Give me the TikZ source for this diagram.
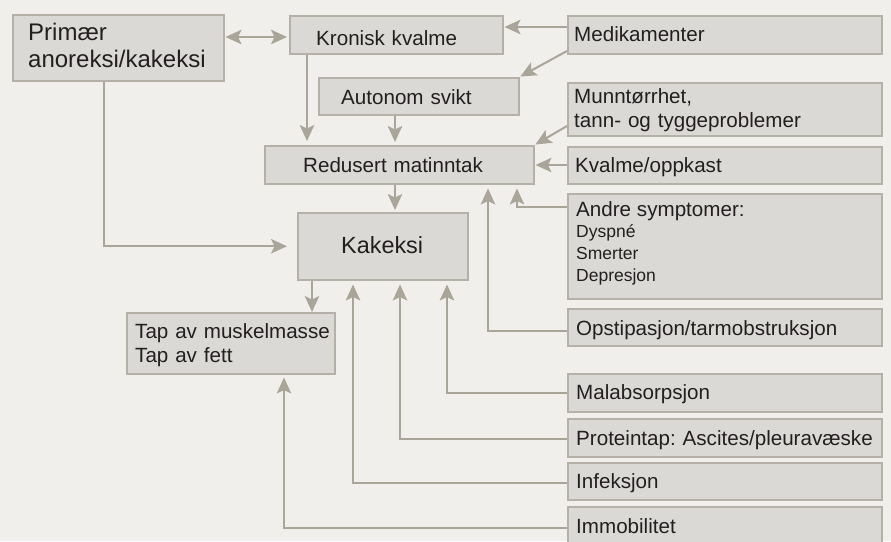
\documentclass[tikz,border=0pt]{standalone}
\usepackage{fontspec}
\setmainfont{Liberation Sans}
\usetikzlibrary{arrows.meta}
\definecolor{bgc}{RGB}{240,239,236}
\definecolor{boxf}{RGB}{218,217,214}
\definecolor{boxd}{RGB}{182,177,168}
\definecolor{arrc}{RGB}{170,165,153}
\definecolor{txtc}{RGB}{35,31,32}
\frenchspacing
\begin{document}
\begin{tikzpicture}[x=1pt,y=-1pt,
  bx/.style={draw=boxd, fill=boxf, line width=1.5pt, inner sep=0pt, anchor=north west},
  tx/.style={anchor=base west, inner sep=0pt, text=txtc, font=\fontsize{20.6}{24}\selectfont, align=left, text width=310pt},
  arr/.style={draw=arrc, line width=2pt, -{Stealth[length=16pt,width=14.5pt,inset=3.5pt]}},
  arr2/.style={draw=arrc, line width=2pt, {Stealth[length=16pt,width=14.5pt,inset=3.5pt]}-{Stealth[length=16pt,width=14.5pt,inset=3.5pt]}},
]
\useasboundingbox (0,0) rectangle (891,541);
\fill[bgc] (0,0) rectangle (891,541);

% boxes
\node[bx, minimum width=211pt, minimum height=66pt] (prim) at (12,14) {};
\node[bx, minimum width=213pt, minimum height=38pt] (kron) at (289,15) {};
\node[bx, minimum width=200pt, minimum height=37pt] (auto) at (318,77) {};
\node[bx, minimum width=269pt, minimum height=38pt] (red) at (264,145) {};
\node[bx, minimum width=170pt, minimum height=67pt] (kak) at (297,212) {};
\node[bx, minimum width=208pt, minimum height=61pt] (tap) at (126,312) {};
\node[bx, minimum width=314pt, minimum height=38pt] (med) at (567,15) {};
\node[bx, minimum width=314pt, minimum height=53pt] (munn) at (567,82) {};
\node[bx, minimum width=314pt, minimum height=37pt] (kvo) at (567,146) {};
\node[bx, minimum width=314pt, minimum height=105pt] (andre) at (567,193) {};
\node[bx, minimum width=314pt, minimum height=37pt] (opst) at (567,308) {};
\node[bx, minimum width=314pt, minimum height=38pt] (mal) at (567,373) {};
\node[bx, minimum width=314pt, minimum height=38pt] (prot) at (567,418) {};
\node[bx, minimum width=314pt, minimum height=37pt] (inf) at (567,462) {};
\node[bx, minimum width=314pt, minimum height=44pt] (imm) at (567,506) {};

% texts
\node[tx, font=\fontsize{24}{27}\selectfont] (primt) at (28,40) {Primær\\anoreksi/kakeksi};
\node[tx] (kront) at (316,45) {Kronisk kvalme};
\node[tx] (autot) at (341,104) {Autonom svikt};
\node[tx] (redt) at (303,172) {Redusert matinntak};
\node[tx, font=\fontsize{23.4}{27}\selectfont] (kakt) at (341,253) {Kakeksi};
\node[tx] (tapt) at (135,338) {Tap av muskelmasse\\Tap av fett};
\node[tx] (medt) at (574,41) {Medikamenter};
\node[tx] (munnt) at (574,103) {Munntørrhet,\\tann- og tyggeproblemer};
\node[tx] (kvot) at (575,172) {Kvalme/oppkast};
\node[tx, font=\fontsize{17.5}{21.8}\selectfont] (andret) at (576,216) {{\fontsize{20.6}{21.8}\selectfont Andre symptomer:}\\Dyspné\\Smerter\\Depresjon};
\node[tx] (opstt) at (576,335) {Opstipasjon/tarmobstruksjon};
\node[tx] (malt) at (576,399.5) {Malabsorpsjon};
\node[tx] (prott) at (576,445) {Proteintap: Ascites/pleuravæske};
\node[tx] (inft) at (576,488) {Infeksjon};
\node[tx] (immt) at (576,533) {Immobilitet};

% connectors
\draw[arr2, shorten <=1pt, shorten >=2pt] (prim.east |- 0,37) -- (kron.west |- 0,37);
\draw[arr, shorten >=1pt] (med.west |- 0,27) -- (kron.east |- 0,27);
\draw[arr, shorten >=1pt] (med.west |- 0,51) -- (auto.north east);
\draw[arr, shorten >=1pt] (munn.west |- 0,126) -- (red.north east);
\draw[arr, shorten >=1pt] (kvo.west |- 0,165) -- (red.east |- 0,165);
\draw[arr, shorten >=4pt] (andre.west |- 0,207) -| (red.south -| 517,0);
\draw[arr, shorten >=4pt] (opst.west |- 0,331) -| (red.south -| 488,0);
\draw[arr, shorten >=4pt] (kron.south -| 307,0) -- (red.north -| 307,0);
\draw[arr, shorten >=3pt] (auto.south -| 395,0) -- (red.north -| 395,0);
\draw[arr, shorten >=2pt] (red.south -| 395,0) -- (kak.north -| 395,0);
\draw[arr, shorten >=10pt] (prim.south -| 104,0) |- (kak.west);
\draw[arr] (kak.south -| 312,0) -- (tap.north -| 312,0);
\draw[arr, shorten >=4pt] (mal.west |- 0,393) -| (kak.south -| 447,0);
\draw[arr, shorten >=4pt] (prot.west |- 0,439) -| (kak.south -| 400,0);
\draw[arr, shorten >=4pt] (inf.west |- 0,483) -| (kak.south -| 353,0);
\draw[arr, shorten >=3pt] (imm.west |- 0,528) -| (tap.south -| 284,0);
\end{tikzpicture}
\end{document}
